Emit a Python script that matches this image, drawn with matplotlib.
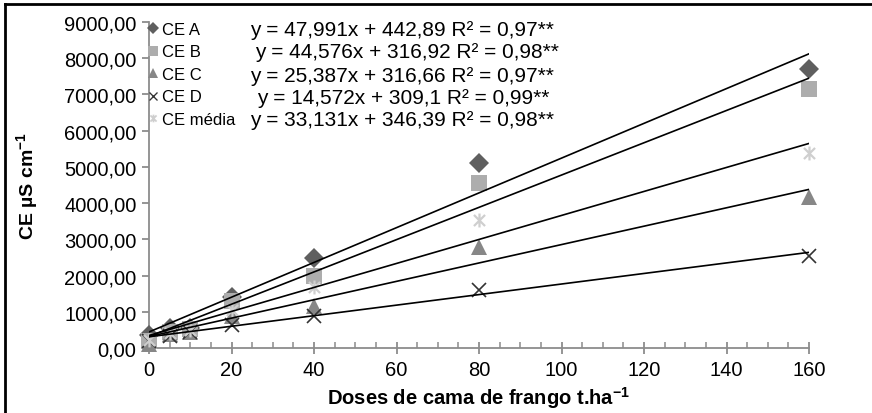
import numpy as np
import matplotlib
matplotlib.use("Agg")
import matplotlib.pyplot as plt
from matplotlib.path import Path
from matplotlib.ticker import FuncFormatter, MultipleLocator
from matplotlib.lines import Line2D

plt.rcParams['font.family'] = ['Liberation Sans', 'DejaVu Sans']
plt.rcParams['mathtext.fontset'] = 'custom'
plt.rcParams['mathtext.rm'] = 'Liberation Sans'
plt.rcParams['mathtext.bf'] = 'Liberation Sans:bold'

doses = [0, 5, 10, 20, 40, 80, 160]
series_names = ["CE A", "CE B", "CE C", "CE D", "CE média"]
ce_a = [350, 550, 560, 1400, 2480, 5110, 7700]
ce_b = [200, 430, 520, 1300, 1990, 4560, 7150]
ce_c = [100, 380, 450, 870, 1150, 2790, 4170]
ce_d = [200, 330, 430, 630, 880, 1600, 2540]
ce_media = [210, 420, 490, 1050, 1690, 3540, 5390]
slopes = [47.991, 44.576, 25.387, 14.572, 33.131]
intercepts = [442.89, 316.92, 316.66, 309.1, 346.39]
equations = ["y = 47,991x + 442,89 R² = 0,97**",
             "y = 44,576x + 316,92 R² = 0,98**",
             "y = 25,387x + 316,66 R² = 0,97**",
             "y = 14,572x + 309,1 R² = 0,99**",
             "y = 33,131x + 346,39 R² = 0,98**"]

asterisk = Path([(0, -1), (0, 1), (-0.8, -0.8), (0.8, 0.8), (-0.8, 0.8), (0.8, -0.8)],
                [Path.MOVETO, Path.LINETO, Path.MOVETO, Path.LINETO, Path.MOVETO, Path.LINETO])

styles = [
    dict(marker='D', color='#5f5f5f', ms=10.5, mew=0),
    dict(marker='s', color='#adadad', ms=12, mew=0),
    dict(marker='^', color='#878787', ms=12, mew=0),
    dict(marker='x', color='#333333', ms=10, mew=1.2),
    dict(marker=asterisk, color='#cfcfcf', ms=10, mew=1.6),
]

W, H = 872, 414
fig = plt.figure(figsize=(W / 100, H / 100), dpi=100)
ax = fig.add_axes([149 / W, 1 - 349 / H, (809 - 149) / W, (349 - 23) / H])

data = [ce_a, ce_b, ce_c, ce_d, ce_media]
xs = np.array(doses, dtype=float)
for vals, st in zip(data, styles):
    ax.plot(xs, vals, linestyle='none', marker=st['marker'], color=st['color'],
            markersize=st['ms'], markeredgewidth=st['mew'], zorder=2, clip_on=False)

xl = np.array([0, 160.0])
for a, b in zip(slopes, intercepts):
    ax.plot(xl, a * xl + b, color='black', lw=1.2, zorder=3)

ax.set_xlim(0, 160)
ax.set_ylim(0, 9000)
ax.xaxis.set_major_locator(MultipleLocator(20))
ax.xaxis.set_minor_locator(MultipleLocator(5))
ax.yaxis.set_major_locator(MultipleLocator(1000))
ax.yaxis.set_major_formatter(FuncFormatter(lambda v, p: f"{v:.2f}".replace('.', ',')))

for s in ['top', 'right']:
    ax.spines[s].set_visible(False)
for s in ['left', 'bottom']:
    ax.spines[s].set_color('#8c8c8c')
    ax.spines[s].set_linewidth(1.3)
    ax.spines[s].set_zorder(1)

ax.tick_params(axis='x', which='major', direction='inout', length=9, width=1.3,
               color='#8c8c8c', labelsize=14.5, pad=4)
ax.tick_params(axis='x', which='minor', direction='in', length=4, width=1.1, color='#8c8c8c')
ax.tick_params(axis='y', which='major', direction='out', length=5, width=1.3,
               color='#8c8c8c', labelsize=14.5, pad=4)
ax.patch.set_alpha(0)

ax.set_xlabel(r"Doses de cama de frango t.ha$^{\mathbf{-1}}$", fontsize=14.5,
              fontweight='bold', labelpad=4)
ax.set_ylabel(r"CE µS cm$^{\mathbf{-1}}$", fontsize=14, fontweight='bold')
ax.yaxis.set_label_coords((41 - 149) / (809 - 149), 0.5)

handles = [Line2D([], [], linestyle='none', marker=st['marker'], color=st['color'],
                  markersize=st['ms'] * 0.55, markeredgewidth=st['mew'] * 0.8)
           for st in styles]
leg = ax.legend(handles, series_names, loc='upper left', bbox_to_anchor=(0.0, 1.0),
                frameon=False, fontsize=12, handlelength=0.5, handletextpad=0.3,
                labelspacing=0.45, borderaxespad=0.0, borderpad=0.0)

row_y = [28, 51, 74, 97, 119]
eq_x = [250, 255, 250, 257, 250]
for t, yy, xx in zip(equations, row_y, eq_x):
    fig.text(xx / W, 1 - yy / H, t, fontsize=15, va='center_baseline', ha='left')

# outer frame (left and top edges visible)
fig.add_artist(Line2D([5 / W, 5 / W], [0, 1 - 5 / H], color='black', lw=2, transform=fig.transFigure))
fig.add_artist(Line2D([5 / W, 1], [1 - 5 / H, 1 - 5 / H], color='black', lw=2, transform=fig.transFigure))

fig.savefig("out.png", dpi=100)
